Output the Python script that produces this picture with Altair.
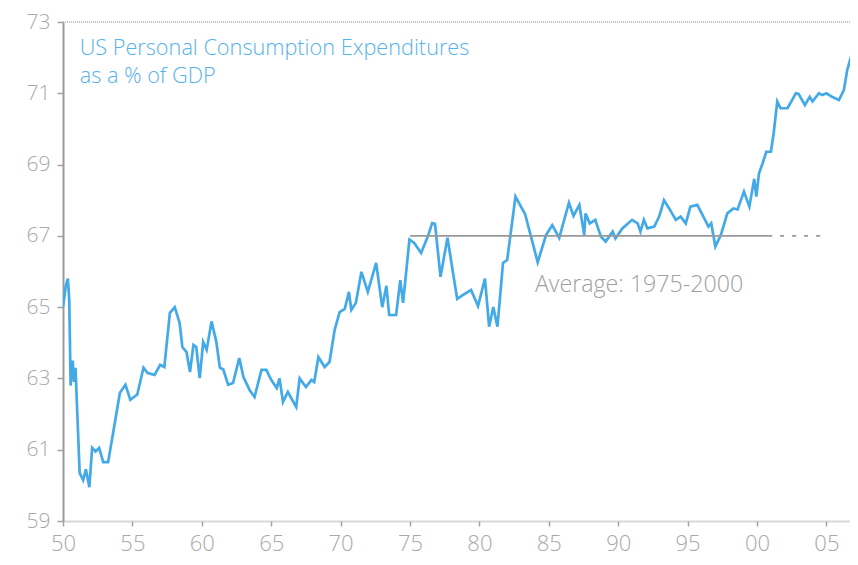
import altair as alt
import pandas as pd

# --- data ---
years = [1950.0, 1950.2, 1950.35, 1950.45, 1950.55, 1950.7, 1950.8, 1950.9,
         1951.2, 1951.45, 1951.65, 1951.9, 1952.1, 1952.35, 1952.6, 1952.9,
         1953.25, 1953.6, 1954.1, 1954.5, 1954.85, 1955.35, 1955.8, 1956.1,
         1956.6, 1957.0, 1957.3, 1957.7, 1958.05, 1958.4, 1958.6, 1958.9,
         1959.15, 1959.4, 1959.6, 1959.85, 1960.1, 1960.35, 1960.7, 1961.05,
         1961.3, 1961.55, 1961.9, 1962.25, 1962.7, 1963.0, 1963.45, 1963.8,
         1964.3, 1964.65, 1965.0, 1965.4, 1965.6, 1965.85, 1966.2, 1966.8,
         1967.05, 1967.5, 1967.9, 1968.1, 1968.4, 1968.85, 1969.2, 1969.57,
         1969.93, 1970.3, 1970.6, 1970.77, 1971.1, 1971.5, 1971.96, 1972.56,
         1973.0, 1973.3, 1973.5, 1974.0, 1974.3, 1974.5, 1974.96, 1975.3,
         1975.8, 1976.3, 1976.6, 1976.8, 1977.2, 1977.7, 1978.1, 1978.4,
         1978.8, 1979.4, 1979.9, 1980.4, 1980.7, 1981.0, 1981.3, 1981.7,
         1982.0, 1982.6, 1983.3, 1984.2, 1984.8, 1985.25, 1985.75, 1986.45,
         1986.78, 1987.2, 1987.55, 1987.65, 1987.95, 1988.35, 1988.75, 1989.1,
         1989.6, 1989.8, 1990.3, 1991.0, 1991.4, 1991.6, 1991.85, 1992.1,
         1992.6, 1992.95, 1993.3, 1993.67, 1994.15, 1994.5, 1994.87, 1995.2,
         1995.7, 1996.2, 1996.5, 1996.7, 1997.0, 1997.4, 1997.86, 1998.3,
         1998.6, 1999.06, 1999.45, 1999.8, 1999.95, 2000.14, 2000.4, 2000.67,
         2001.0, 2001.2, 2001.46, 2001.7, 2002.2, 2002.8, 2003.0, 2003.45,
         2003.8, 2004.0, 2004.46, 2004.7, 2005.0, 2005.4, 2005.9, 2006.26,
         2006.5, 2006.74, 2007.1]
values = [65.0, 65.6, 65.8, 65.2, 62.8, 63.5, 62.9, 63.3,
          60.35, 60.15, 60.45, 59.95, 61.05, 60.95, 61.05, 60.65,
          60.65, 61.45, 62.6, 62.82, 62.4, 62.55, 63.3, 63.15,
          63.1, 63.38, 63.32, 64.84, 65.0, 64.56, 63.88, 63.74,
          63.18, 63.94, 63.88, 63.01, 64.02, 63.8, 64.6, 64.02,
          63.3, 63.25, 62.82, 62.87, 63.57, 63.04, 62.67, 62.48,
          63.24, 63.24, 62.96, 62.73, 63.0, 62.34, 62.62, 62.2,
          63.0, 62.76, 62.96, 62.9, 63.6, 63.32, 63.46, 64.36,
          64.86, 64.95, 65.43, 64.92, 65.12, 65.99, 65.43, 66.24,
          65.0, 65.6, 64.78, 64.78, 65.76, 65.12, 66.9, 66.8,
          66.52, 67.0, 67.36, 67.34, 65.85, 66.95, 65.96, 65.23,
          65.34, 65.48, 65.03, 65.8, 64.45, 65.0, 64.45, 66.24,
          66.32, 68.1, 67.6, 66.26, 67.02, 67.3, 66.94, 67.93,
          67.56, 67.87, 67.03, 67.63, 67.35, 67.45, 66.98, 66.84,
          67.12, 66.93, 67.21, 67.45, 67.35, 67.12, 67.45, 67.21,
          67.26, 67.54, 68.0, 67.77, 67.45, 67.54, 67.35, 67.82,
          67.87, 67.49, 67.26, 67.35, 66.7, 67.03, 67.63, 67.77,
          67.74, 68.24, 67.82, 68.6, 68.1, 68.75, 69.03, 69.36,
          69.36, 69.88, 70.77, 70.58, 70.58, 71.0, 70.98, 70.67,
          70.9, 70.77, 71.0, 70.95, 71.0, 70.9, 70.81, 71.09,
          71.65, 71.98, 71.65]

avg_value = 67.0
avg_solid_years = [1975.0, 2000.8]
avg_dash_years = [2000.8, 2005.0]
avg_label = ["Average: 1975-2000"]
avg_label_x = [1984.0]
avg_label_y = [65.43]

title_lines = ["US Personal Consumption Expenditures", "as a % of GDP"]
title_x = [1951.2, 1951.2]
title_y = [72.07, 71.30]

x_ticks = [1950, 1955, 1960, 1965, 1970, 1975, 1980, 1985, 1990, 1995, 2000, 2005]
x_tick_labels = ["50", "55", "60", "65", "70", "75", "80", "85", "90", "95", "00", "05"]
y_ticks = [59, 61, 63, 65, 67, 69, 71, 73]

# --- styling ---
BLUE = "#43aae7"
TEXT_BLUE = "#55b2ea"
GREY = "#a3a3a3"
FONT = "Open Sans"

xs = alt.Scale(domain=[1950, 2006.7], nice=False, zero=False)
ys = alt.Scale(domain=[59, 73], nice=False, zero=False)

label_expr = ("[" + ",".join("'%s'" % s for s in x_tick_labels) + "]"
              "[indexof([" + ",".join(str(v) for v in x_ticks) + "], datum.value)]")

x_axis = alt.Axis(values=x_ticks, labelExpr=label_expr, title=None, grid=False,
                  domainColor="#b0b0b0", domainWidth=2, domainDash=[1, 1],
                  tickColor=GREY, tickSize=5, tickWidth=1.5, labelPadding=7,
                  labelFontSize=22, labelFlush=False)
y_axis = alt.Axis(values=y_ticks, title=None, grid=False,
                  domainColor="#9c9c9c", domainWidth=2,
                  tickColor=GREY, tickSize=6, tickWidth=1.5, labelPadding=7,
                  labelFontSize=21, labelFlush=False)

df = pd.DataFrame({"year": years, "value": values})

line = alt.Chart(df).mark_line(color=BLUE, strokeWidth=2.7, clip=True).encode(
    x=alt.X("year:Q", scale=xs, axis=x_axis),
    y=alt.Y("value:Q", scale=ys, axis=y_axis),
)

top_rule = alt.Chart(pd.DataFrame({"value": [73]})).mark_rule(
    color="#b0b0b0", strokeWidth=1.5, strokeDash=[1, 1]
).encode(y=alt.Y("value:Q", scale=ys, axis=y_axis))

avg_solid = alt.Chart(pd.DataFrame({
    "year": [avg_solid_years[0]], "year2": [avg_solid_years[1]], "value": [avg_value]
})).mark_rule(color="#999999", strokeWidth=1.6).encode(
    x=alt.X("year:Q", scale=xs, axis=x_axis), x2="year2:Q",
    y=alt.Y("value:Q", scale=ys, axis=y_axis))

avg_dash = alt.Chart(pd.DataFrame({
    "year": [avg_dash_years[0]], "year2": [avg_dash_years[1]], "value": [avg_value]
})).mark_rule(color="#999999", strokeWidth=1.6, strokeDash=[4, 8]).encode(
    x=alt.X("year:Q", scale=xs, axis=x_axis), x2="year2:Q",
    y=alt.Y("value:Q", scale=ys, axis=y_axis))

avg_text = alt.Chart(pd.DataFrame({
    "year": avg_label_x, "value": avg_label_y, "t": avg_label
})).mark_text(align="left", baseline="alphabetic", font=FONT, fontSize=23.2,
              fontWeight=300, color="#a0a0a0").encode(
    x=alt.X("year:Q", scale=xs, axis=x_axis), y=alt.Y("value:Q", scale=ys, axis=y_axis),
    text="t:N")

title_text = alt.Chart(pd.DataFrame({
    "year": title_x, "value": title_y, "t": title_lines
})).mark_text(align="left", baseline="alphabetic", font=FONT, fontSize=21.7,
              fontWeight=300, color=TEXT_BLUE).encode(
    x=alt.X("year:Q", scale=xs, axis=x_axis), y=alt.Y("value:Q", scale=ys, axis=y_axis),
    text="t:N")

chart = alt.layer(line, avg_solid, avg_dash, top_rule, avg_text, title_text).properties(
    width=787, height=499,
    autosize=alt.AutoSizeParams(type="none"),
    padding={"left": 55, "top": 14, "right": 0, "bottom": 36},
).configure_view(stroke=None).configure_axis(
    labelFont=FONT, labelFontWeight=300, labelColor="#a8a8a8"
)

chart.save("out.html", embed_options={"renderer": "svg", "actions": False})
